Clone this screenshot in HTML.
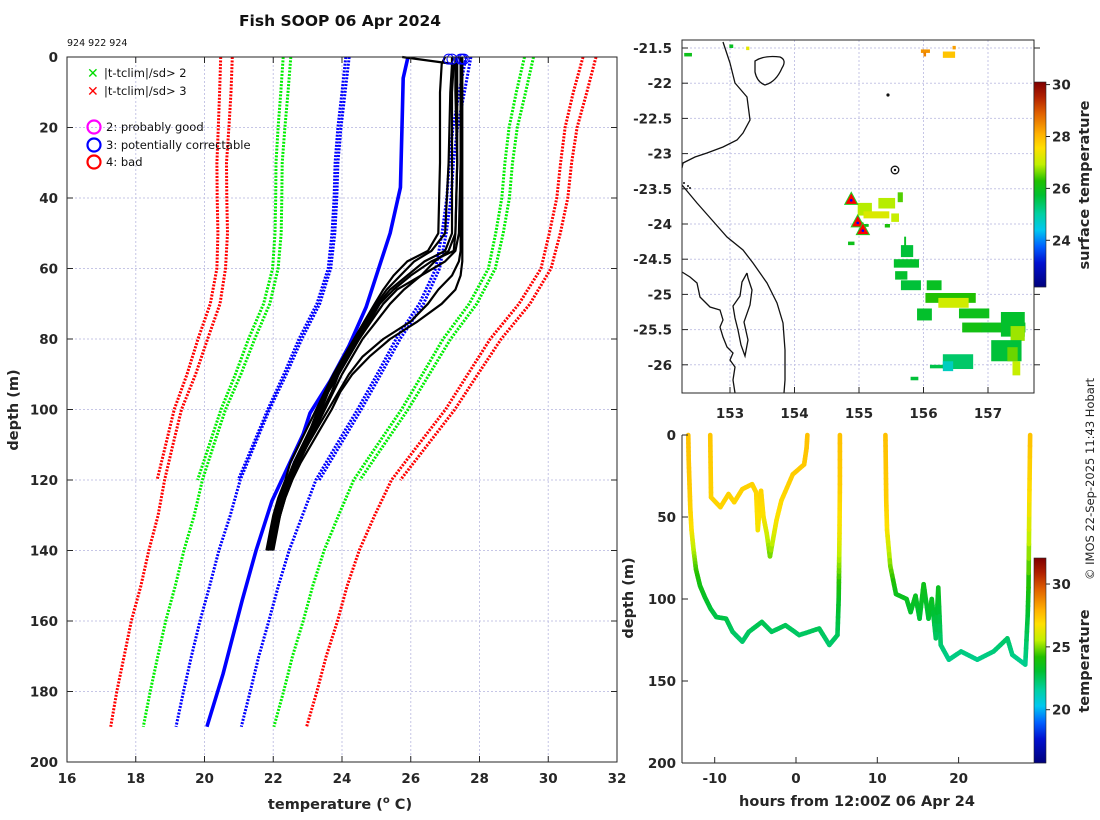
<!DOCTYPE html>
<html><head><meta charset="utf-8"><style>
html,body{margin:0;padding:0;background:#fff;}
svg{display:block;font-family:"DejaVu Sans","Liberation Sans",sans-serif;}
.tk{font-size:13.5px;font-weight:bold;fill:#262626;}
.lb{font-size:14.5px;font-weight:bold;fill:#262626;}
</style></head><body>
<svg id="fig" width="1100" height="820" viewBox="0 0 1100 820" xmlns="http://www.w3.org/2000/svg">
<rect width="1100" height="820" fill="#fff"/>
<text x="340" y="26" text-anchor="middle" style="font-size:15.5px;font-weight:bold" fill="#111">Fish SOOP 06 Apr 2024</text>
<text x="67" y="46" style="font-size:9.5px" fill="#111">924 922 924</text>
<g id="main"></g>
<g id="map"></g>
<g id="ts"></g>
<text transform="translate(1094,580) rotate(-90)" style="font-size:11.5px" fill="#222">© IMOS 22-Sep-2025 11:43 Hobart</text>
</svg>
<script>
// ---------- main profile data ----------
const climDepthA=[0,10,20,30,40,50,60,70,80,90,100,110,120,130,140,150,160,170,180,190];
const climMeanA=[25.91,25.75,25.6,25.5,25.45,25.35,25.2,24.8,24.2,23.7,23.17,22.65,22.14,21.8,21.44,21.15,20.87,20.6,20.36,20.12];
const climSdA=[1.70,1.66,1.63,1.62,1.60,1.56,1.53,1.45,1.37,1.32,1.28,1.19,1.10,1.05,1.02,1.00,1.00,0.98,0.97,0.95];
const climDepthB=[0,10,20,30,40,50,60,70,80,90,100,110,120];
const climMeanB=[25.93,25.78,25.62,25.52,25.47,25.37,25.22,24.82,24.22,23.72,23.2,22.68,22.16];
const climSdB=[1.82,1.78,1.74,1.72,1.70,1.66,1.62,1.55,1.47,1.41,1.36,1.27,1.18];
const profDepth=[0,2,10,30,50,55,58,62,66,70,75,80,85,90,95,100,105,110,115,120,125,130,135,140];
const prof1=[27.3,27.3,27.3,27.35,27.3,27.25,26.6,26.0,25.5,25.1,24.8,24.5,24.2,23.9,23.7,23.45,23.2,22.95,22.7,22.5,22.3,22.15,22.0,21.9];
const prof2=[27.2,27.2,27.15,27.1,27.0,26.6,26.1,25.7,25.3,25.0,24.7,24.4,24.1,23.8,23.55,23.3,23.1,22.85,22.6,22.4,22.2,22.05,21.95,21.85];
const prof3=[27.4,27.45,27.45,27.45,27.45,27.45,27.4,27.2,26.8,26.5,26.0,25.2,24.6,24.2,23.9,23.6,23.3,23.0,22.7,22.5,22.3,22.2,22.05,21.95];
const prof4=[27.45,27.5,27.5,27.5,27.5,27.5,27.5,27.45,27.3,26.9,26.2,25.4,24.8,24.3,23.95,23.7,23.4,23.1,22.8,22.55,22.35,22.2,22.1,22.0];
const prof5=[27.0,26.9,26.85,26.85,26.8,26.5,25.9,25.5,25.2,24.95,24.65,24.35,24.05,23.75,23.5,23.25,23.0,22.75,22.5,22.35,22.15,22.0,21.9,21.8];
const prof6=[27.3,27.35,27.35,27.35,27.3,27.1,26.7,26.3,25.8,25.4,25.0,24.6,24.3,24.0,23.75,23.5,23.25,23.0,22.75,22.55,22.35,22.2,22.05,21.95];
const prof7=[27.5,27.5,27.45,27.45,27.4,27.3,27.0,26.3,25.6,25.2,24.85,24.5,24.2,23.9,23.6,23.35,23.15,22.9,22.65,22.45,22.25,22.1,22.0,21.85];
const prof8=[25.75,27.25,27.2,27.2,27.2,27.0,26.4,25.9,25.4,25.05,24.75,24.45,24.15,23.85,23.6,23.4,23.15,22.9,22.65,22.45,22.25,22.1,21.95,21.85];
const blueDepth=[0,6,18,37,50,59,71,82,92,101,107,126,140,154,175,190];
const blueTemp=[25.92,25.78,25.75,25.7,25.4,25.1,24.7,24.2,23.65,23.07,22.87,21.96,21.5,21.1,20.54,20.07];
const flagTemps=[27.1,27.2,27.45,27.5,27.55];
const xTicks=[16,18,20,22,24,26,28,30,32];
const yTicks=[0,20,40,60,80,100,120,140,160,180,200];
// ---------- map data ----------
const lonTicks=[153,154,155,156,157];
const latTicks=[-21.5,-22,-22.5,-23,-23.5,-24,-24.5,-25,-25.5,-26];
const sstLon=[152.29,152.99,153.25,155.96,156.0,156.3,156.45,154.98,155.3,155.07,155.6,155.5,155.05,155.54,155.65,155.7,155.56,155.65,156.05,156.03,156.23,155.9,156.55,156.6,156.9,157.2,157.35,157.05,157.3,157.38,156.1,156.3,155.8,156.3,154.83,155.4];
const sstLat=[-21.57,-21.45,-21.48,-21.52,-21.56,-21.55,-21.47,-23.7,-23.63,-23.82,-23.55,-23.85,-24.0,-24.5,-24.3,-24.18,-24.67,-24.8,-24.8,-24.98,-25.05,-25.2,-25.2,-25.4,-25.4,-25.25,-25.45,-25.65,-25.75,-25.95,-26.0,-25.85,-26.17,-25.95,-24.25,-24.0];
const sstW=[0.12,0.06,0.05,0.14,0.04,0.19,0.05,0.22,0.26,0.4,0.08,0.12,0.1,0.39,0.19,0.03,0.19,0.31,0.23,0.78,0.47,0.23,0.47,0.31,0.68,0.37,0.22,0.47,0.16,0.12,0.28,0.47,0.12,0.16,0.1,0.08];
const sstH=[0.05,0.05,0.05,0.05,0.06,0.09,0.05,0.18,0.15,0.1,0.14,0.12,0.04,0.12,0.17,0.14,0.12,0.14,0.14,0.14,0.14,0.17,0.14,0.14,0.14,0.35,0.21,0.3,0.2,0.2,0.05,0.21,0.05,0.14,0.05,0.05];
const sstT=[26.0,25.9,27.3,28.4,28.6,27.9,28.3,26.9,26.9,27.2,26.5,27.0,26.0,25.8,25.7,25.9,25.8,25.7,25.9,26.3,27.1,25.8,26.0,26.1,26.0,25.8,26.8,25.7,26.6,27.0,25.6,25.4,25.7,24.8,26.0,26.2];
const triLon=[154.88,154.98,155.06];
const triLat=[-23.65,-23.97,-24.08];
const sstTicks=[24,26,28,30];
// ---------- depth-time data ----------
const seg1H=[-13.25,-13.2,-13.1,-13.0,-12.85,-12.6,-12.3,-11.8,-11.2,-10.5,-9.8,-8.6,-7.8,-6.6,-5.8,-4.2,-3.0,-1.3,0.4,2.85,4.1,5.1,5.25,5.3,5.35,5.4,5.4];
const seg1D=[0,15,30,45,58,70,82,92,99,106,111,112,120,126,120,114,120,116,122,118,128,122,100,80,60,30,0];
const seg1T=[27.6,27.5,27.4,27.2,26.8,25.6,24.5,23.8,23.4,23.0,22.8,22.8,22.5,22.3,22.5,22.7,22.5,22.6,22.4,22.6,22.3,22.5,23.3,25.0,26.5,27.3,27.6];
const seg2H=[-10.55,-10.5,-10.45,-9.3,-8.3,-7.6,-6.6,-5.4,-4.9,-4.7,-4.3,-4.0,-3.6,-3.2,-2.4,-1.8,-0.4,1.0,1.3,1.4];
const seg2D=[0,20,38,44,36,41,33,30,35,58,34,50,60,74,52,40,24,18,8,0];
const seg2T=[27.5,27.3,27.2,27.1,27.2,27.1,27.2,27.2,27.1,26.6,27.2,26.8,26.0,24.8,26.7,27.0,27.3,27.4,27.5,27.6];
const seg3H=[11.0,11.05,11.1,11.2,11.6,12.3,13.6,14.1,14.7,15.2,15.7,16.3,16.7,17.2,17.5,17.8,18.8,20.3,22.3,24.3,26.0,26.6,28.2,28.5,28.6,28.7,28.8];
const seg3D=[0,20,40,58,80,97,100,108,98,112,91,112,100,124,93,128,137,132,137,132,124,134,140,110,93,40,0];
const seg3T=[27.6,27.5,27.3,26.8,25.0,23.6,23.5,23.2,23.5,23.0,23.7,23.0,23.5,22.4,23.6,22.3,21.9,22.1,21.9,22.1,22.4,22.0,21.8,23.0,24.0,26.8,27.6];
const hourTicks=[-10,0,10,20];
const tsDepthTicks=[0,50,100,150,200];
const tcTicks=[20,25,30];

const NS="http://www.w3.org/2000/svg";
function mk(p,tag,at){const e=document.createElementNS(NS,tag);for(const k in at)e.setAttribute(k,at[k]);p.appendChild(e);return e;}
function jet(f){
  const st=[[0,[0,0,122]],[0.12,[0,16,208]],[0.2,[0,96,255]],[0.28,[0,200,240]],[0.36,[0,208,160]],[0.45,[0,192,48]],[0.52,[32,192,0]],[0.6,[192,240,0]],[0.68,[255,224,0]],[0.75,[255,176,0]],[0.85,[224,96,0]],[0.93,[176,32,0]],[1,[128,0,0]]];
  f=Math.max(0,Math.min(1,f));
  for(let i=1;i<st.length;i++){if(f<=st[i][0]){const a=st[i-1],b=st[i],t=(f-a[0])/(b[0]-a[0]);
    return 'rgb('+a[1].map((v,j)=>Math.round(v+(b[1][j]-v)*t)).join(',')+')';}}
  return 'rgb(128,0,0)';
}
// ===== main plot =====
const M=document.getElementById('main');
const X=t=>67+(t-16)*(550/16), Y=d=>57+d*(705/200);
for(const t of xTicks){ if(t>16&&t<32){const g=mk(M,'line',{x1:X(t),x2:X(t),y1:57,y2:762,stroke:'#c6c6e6','stroke-width':1,'stroke-dasharray':'2 2'});
}}
for(const d of yTicks){ if(d>0&&d<200){const g=mk(M,'line',{x1:67,x2:617,y1:Y(d),y2:Y(d),stroke:'#c6c6e6','stroke-width':1,'stroke-dasharray':'2 2'});
}}
const clr={1:'#0000ff',2:'#00ee00',3:'#ff0000'};
function climLines(dep,mean,sd,nm){
  for(const k of [-3,-2,-1,1,2,3]){
    const pts=dep.map((d,i)=>X(mean[i]+k*sd[i]).toFixed(1)+','+Y(d).toFixed(1)).join(' ');
    const p=mk(M,'polyline',{points:pts,fill:'none',stroke:clr[Math.abs(k)],'stroke-width':3,'stroke-dasharray':'2 1.4'});
    
    
  }
}
climLines(climDepthA,climMeanA,climSdA,'climatology-a');
climLines(climDepthB,climMeanB,climSdB,'climatology-b');
const bl=mk(M,'polyline',{points:blueDepth.map((d,i)=>X(blueTemp[i])+','+Y(d)).join(' '),fill:'none',stroke:'#0000ff','stroke-width':3.6,'stroke-linejoin':'round'});


[prof1,prof2,prof3,prof4,prof5,prof6,prof7,prof8].forEach((pr,j)=>{
  const p=mk(M,'polyline',{points:profDepth.map((d,i)=>X(pr[i]).toFixed(1)+','+Y(d).toFixed(1)).join(' '),fill:'none',stroke:'#000','stroke-width':2.2,'stroke-linejoin':'round'});
  
  
});
for(const t of flagTemps){const c=mk(M,'circle',{cx:X(t),cy:Y(0.6),r:5,fill:'none',stroke:'#0000ff','stroke-width':1});
}
mk(M,'rect',{x:67,y:57,width:550,height:705,fill:'none',stroke:'#262626','stroke-width':1});
for(const t of xTicks){
  mk(M,'line',{x1:X(t),x2:X(t),y1:762,y2:756,stroke:'#262626'});mk(M,'line',{x1:X(t),x2:X(t),y1:57,y2:63,stroke:'#262626'});
  const tx=mk(M,'text',{x:X(t),y:783,'text-anchor':'middle',class:'tk'});tx.textContent=t;
  
}
for(const d of yTicks){
  mk(M,'line',{x1:67,x2:73,y1:Y(d),y2:Y(d),stroke:'#262626'});mk(M,'line',{x1:611,x2:617,y1:Y(d),y2:Y(d),stroke:'#262626'});
  const tx=mk(M,'text',{x:58,y:Y(d)+5,'text-anchor':'end',class:'tk'});tx.textContent=d;
  
}
M.insertAdjacentHTML('beforeend',
 '<text x="340" y="809" text-anchor="middle" class="lb">temperature (<tspan dy="-6" style="font-size:10px">o</tspan><tspan dy="6"> C)</tspan></text>'+
 '<text transform="translate(18,410) rotate(-90)" text-anchor="middle" class="lb">depth (m)</text>'+
 '<g style="font-size:11.5px" fill="#111">'+
 '<text x="87" y="78" fill="#00dd00" style="font-weight:bold;font-size:14px">✕</text><text x="104" y="77">|t-tclim|/sd&gt; 2</text>'+
 '<text x="87" y="96" fill="#ff0000" style="font-weight:bold;font-size:14px">✕</text><text x="104" y="95">|t-tclim|/sd&gt; 3</text>'+
 '<circle cx="94" cy="127" r="6.5" fill="none" stroke="#ff00ff" stroke-width="2.2"/><text x="106" y="131">2: probably good</text>'+
 '<circle cx="94" cy="145" r="6.5" fill="none" stroke="#0000ff" stroke-width="2.2"/><text x="106" y="149">3: potentially correctable</text>'+
 '<circle cx="94" cy="162" r="6.5" fill="none" stroke="#ff0000" stroke-width="2.2"/><text x="106" y="166">4: bad</text></g>');

// ===== map =====
const G=document.getElementById('map');
const LX=l=>730+(l-153)*64.5, LY=l=>48+(-21.5-l)*70.4;
mk(G,'rect',{x:682,y:40,width:352,height:353,fill:'#fff'});
for(const l of lonTicks){const g=mk(G,'line',{x1:LX(l),x2:LX(l),y1:40,y2:393,stroke:'#c6c6e6','stroke-dasharray':'2 2'});
}
for(const l of latTicks){const g=mk(G,'line',{x1:682,x2:1034,y1:LY(l),y2:LY(l),stroke:'#c6c6e6','stroke-dasharray':'2 2'});
}
const f1=t=>(t-22.2)/(30.1-22.2);
sstLon.forEach((lo,i)=>{
  const r=mk(G,'rect',{x:LX(lo),y:LY(sstLat[i]),width:sstW[i]*64.5,height:sstH[i]*70.4,fill:jet(f1(sstT[i]))});
  
  
});
G.insertAdjacentHTML('beforeend',
 '<g fill="none" stroke="#111" stroke-width="1.3">'+
 '<polyline points="723,42 730,63 735,83 747,97 750,120 743,133 737,140 723,147 707,153 695,157 683,163 682,168"/>'+
 '<polyline points="682,185 697,203 712,220 727,237 743,250 753,263 767,283 777,303 783,323 785,350 785,380 784,393"/>'+
 '<polyline points="682,272 690,277 697,283 700,297 710,307 720,310 723,320 720,327 723,337 727,347 733,353 730,360 735,367 733,380 735,393"/>'+
 '<polyline points="747,273 742,282 740,296 733,306 735,318 738,330 741,345 745,356 748,340 744,322 750,305 752,290 748,278 747,273"/>'+
 '<path d="M755,61 Q764,55 780,57 Q787,60 782,68 Q776,82 765,85 Q757,82 755,72 Z"/>'+
 '<circle cx="895" cy="170" r="3.8"/></g>'+
 '<circle cx="888" cy="95" r="1.6" fill="#111"/><circle cx="684" cy="183" r="1" fill="#111"/><circle cx="688" cy="186" r="1" fill="#111"/><circle cx="690" cy="188" r="1" fill="#111"/><circle cx="895" cy="170" r="1.2" fill="#111"/>');
triLon.forEach((lo,i)=>{
  const x=LX(lo),y=LY(triLat[i]);
  const t=mk(G,'polygon',{points:(x)+','+(y-7)+' '+(x-6.5)+','+(y+5)+' '+(x+6.5)+','+(y+5),fill:'#ff0000',stroke:'#20d020','stroke-width':1});
  
  
  mk(G,'circle',{cx:x,cy:y+1,r:1.3,fill:'#0000ff'});
});
mk(G,'rect',{x:682,y:40,width:352,height:353,fill:'none',stroke:'#262626'});
for(const l of lonTicks){mk(G,'line',{x1:LX(l),x2:LX(l),y1:393,y2:387,stroke:'#262626'});
  const tx=mk(G,'text',{x:LX(l),y:418,'text-anchor':'middle',class:'tk'});tx.textContent=l;
  }
for(const l of latTicks){mk(G,'line',{x1:682,x2:688,y1:LY(l),y2:LY(l),stroke:'#262626'});mk(G,'line',{x1:1034,x2:1040,y1:LY(l),y2:LY(l),stroke:'#262626'});
  const tx=mk(G,'text',{x:672,y:LY(l)+5,'text-anchor':'end',class:'tk'});tx.textContent=l;
  }
// colorbar 1
for(let i=0;i<205;i++){mk(G,'rect',{x:1034,y:82+i,width:12,height:1.2,fill:jet(1-i/205)});}
mk(G,'rect',{x:1034,y:82,width:12,height:205,fill:'none',stroke:'#262626','stroke-width':0.6});
const CY1=t=>287-(t-22.2)*(205/7.9);
for(const t of sstTicks){mk(G,'line',{x1:1046,x2:1050,y1:CY1(t),y2:CY1(t),stroke:'#262626'});
  const tx=mk(G,'text',{x:1052,y:CY1(t)+5,class:'tk'});tx.textContent=t;
  }
G.insertAdjacentHTML('beforeend','<text transform="translate(1089,185) rotate(-90)" text-anchor="middle" class="lb">surface temperature</text>');

// ===== depth-time plot =====
const T=document.getElementById('ts');
const HX=h=>796+h*8.13, HY=d=>435+d*1.64;
const f2=t=>(t-15.76)/(32.07-15.76);
[[seg1H,seg1D,seg1T],[seg2H,seg2D,seg2T],[seg3H,seg3D,seg3T]].forEach((s,k)=>{
  const [H,D,Tt]=s;
  for(let i=0;i<H.length-1;i++){
    const n=6;
    for(let j=0;j<n;j++){
      const a=j/n,b=(j+1)/n;
      const l=mk(T,'line',{x1:HX(H[i]+(H[i+1]-H[i])*a),y1:HY(D[i]+(D[i+1]-D[i])*a),x2:HX(H[i]+(H[i+1]-H[i])*b),y2:HY(D[i]+(D[i+1]-D[i])*b),
        stroke:jet(f2(Tt[i]+(Tt[i+1]-Tt[i])*(a+b)/2)),'stroke-width':4.6,'stroke-linecap':'round'});
      
      
    }
  }
});
mk(T,'line',{x1:682,x2:682,y1:435,y2:763,stroke:'#262626'});
mk(T,'line',{x1:682,x2:1034,y1:763,y2:763,stroke:'#262626'});
for(const h of hourTicks){mk(T,'line',{x1:HX(h),x2:HX(h),y1:763,y2:757,stroke:'#262626'});
  const tx=mk(T,'text',{x:HX(h),y:783,'text-anchor':'middle',class:'tk'});tx.textContent=h;
  }
for(const d of tsDepthTicks){mk(T,'line',{x1:682,x2:688,y1:HY(d),y2:HY(d),stroke:'#262626'});
  const tx=mk(T,'text',{x:676,y:HY(d)+5,'text-anchor':'end',class:'tk'});tx.textContent=d;
  }
for(let i=0;i<205;i++){mk(T,'rect',{x:1034,y:558+i,width:12,height:1.2,fill:jet(1-i/205)});}
mk(T,'rect',{x:1034,y:558,width:12,height:205,fill:'none',stroke:'#262626','stroke-width':0.6});
const CY2=t=>763-(t-15.76)*(205/16.31);
for(const t of tcTicks){mk(T,'line',{x1:1046,x2:1050,y1:CY2(t),y2:CY2(t),stroke:'#262626'});
  const tx=mk(T,'text',{x:1052,y:CY2(t)+5,class:'tk'});tx.textContent=t;
  }
T.insertAdjacentHTML('beforeend',
 '<text x="857" y="806" text-anchor="middle" class="lb">hours from 12:00Z 06 Apr 24</text>'+
 '<text transform="translate(633,598) rotate(-90)" text-anchor="middle" class="lb">depth (m)</text>'+
 '<text transform="translate(1089,661) rotate(-90)" text-anchor="middle" class="lb">temperature</text>');
</script>
</body></html>
